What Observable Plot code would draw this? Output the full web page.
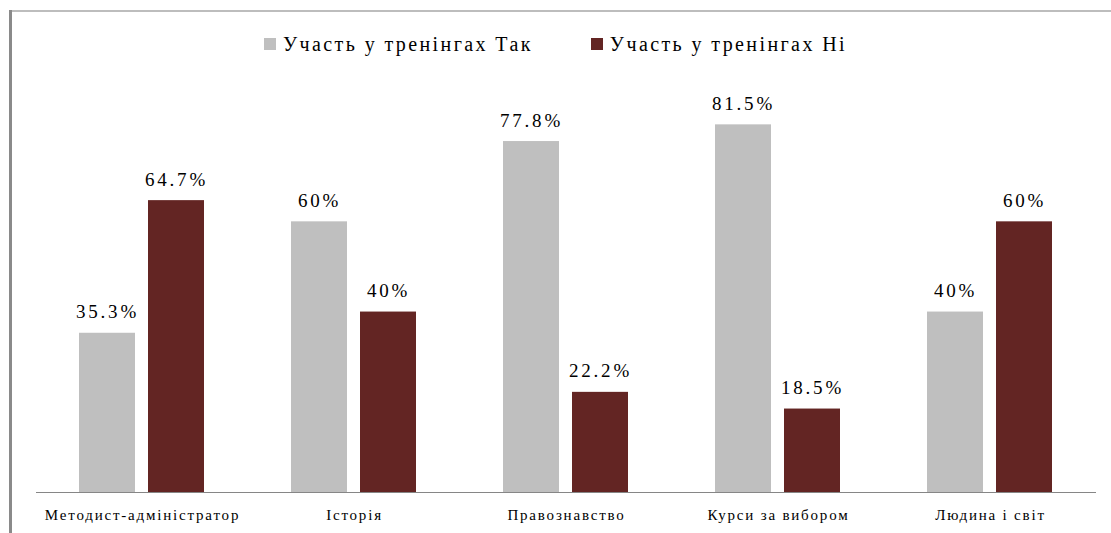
<!DOCTYPE html>
<html>
<head>
<meta charset="utf-8">
<script src="https://cdn.jsdelivr.net/npm/d3@7"></script>
<script src="https://cdn.jsdelivr.net/npm/@observablehq/plot@0.6"></script>
<style>
  html, body { margin: 0; padding: 0; background: #fff; }
  #wrap { position: relative; width: 1111px; height: 533px; overflow: hidden; font-family: "Liberation Serif", "Times New Roman", Tinos, "DejaVu Serif", "Noto Serif", serif; }
  #btop { position: absolute; left: 9px; top: 10px; width: 1102px; height: 2px; background: #bdbdbd; }
  #bleft { position: absolute; left: 9px; top: 10px; width: 3px; height: 523px; background: #8a8a8a; }
  #legend { position: absolute; left: 0; top: 30px; width: 1111px; height: 28px; display: flex; justify-content: center; align-items: center; font-size: 20px; letter-spacing: 2.4px; color: #000; }
  .item { display: flex; align-items: center; margin: 0 29px; }
  .sw { width: 12px; height: 12px; margin-right: 7px; }
  #chart { position: absolute; left: 0; top: 70px; }
</style>
</head>
<body>
<div id="wrap">
  <div id="btop"></div>
  <div id="bleft"></div>
  <div id="legend"></div>
  <div id="chart"></div>
</div>
<script>
const categories = ["Методист-адміністратор", "Історія", "Правознавство", "Курси за вибором", "Людина і світ"];
const series = ["Участь у тренінгах Так", "Участь у тренінгах Ні"];
const takValues = [35.3, 60, 77.8, 81.5, 40];
const niValues = [64.7, 40, 22.2, 18.5, 60];
const colors = ["#bfbfbf", "#632523"];

const data = [];
categories.forEach((c, i) => {
  data.push({cat: c, series: series[0], value: takValues[i]});
  data.push({cat: c, series: series[1], value: niValues[i]});
});

const legend = document.getElementById("legend");
series.forEach((s, i) => {
  const it = document.createElement("div");
  it.className = "item";
  const sw = document.createElement("div");
  sw.className = "sw";
  sw.style.background = colors[i];
  const t = document.createElement("span");
  t.textContent = s;
  it.appendChild(sw);
  it.appendChild(t);
  legend.appendChild(it);
});

const chart = Plot.plot({
  width: 1111,
  height: 463,
  marginTop: 16,
  marginBottom: 41,
  marginLeft: 34,
  marginRight: 14,
  style: {fontFamily: "'Liberation Serif', 'Times New Roman', Tinos, 'DejaVu Serif', 'Noto Serif', serif", background: "transparent", color: "#000", letterSpacing: "1.8px"},
  fx: {domain: categories, padding: 0, label: null},
  x: {domain: series, axis: null, paddingInner: 0.186, paddingOuter: 0.611},
  y: {domain: [0, 90], axis: null},
  color: {domain: series, range: colors},
  marks: [
    Plot.barY(data, {fx: "cat", x: "series", y: "value", fill: "series"}),
    Plot.text(data, {fx: "cat", x: "series", y: "value", text: d => `${d.value}%`, dy: -15, lineAnchor: "bottom", fontSize: 19, fill: "#000", className: "vals"}),
    Plot.ruleY([0], {stroke: "#868686", strokeWidth: 1.2}),
    Plot.axisFx({anchor: "bottom", tickSize: 0, tickPadding: 17, fontSize: 15, label: null, fill: "#000"})
  ]
});
d3.select(chart).selectAll(".vals text").attr("letter-spacing", "2.8px");
document.getElementById("chart").appendChild(chart);
</script>
</body>
</html>
